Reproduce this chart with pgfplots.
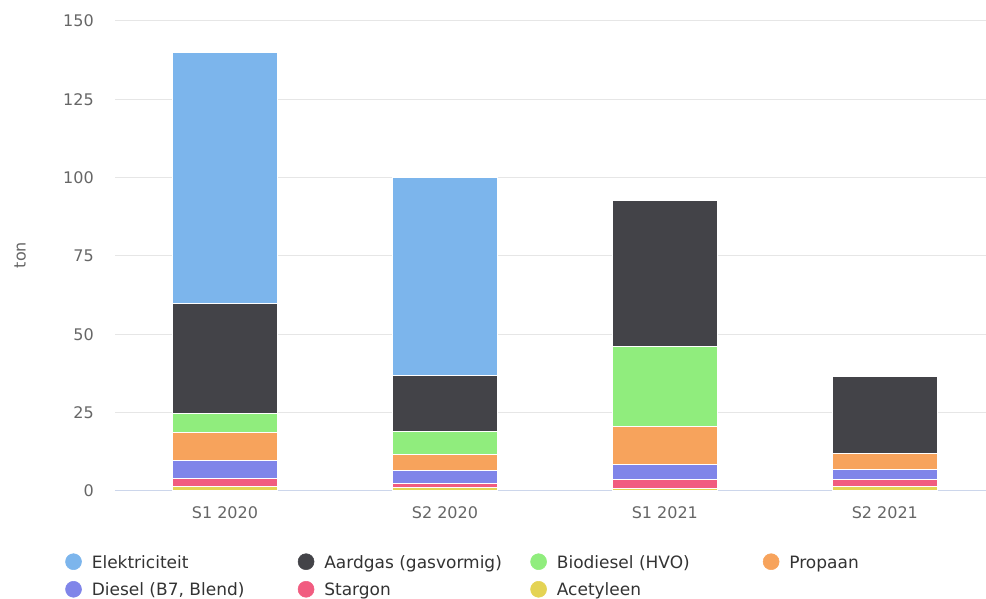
\documentclass[border=0pt]{standalone}
\usepackage{fontspec}
\setmainfont{DejaVu Sans}
\usepackage{pgfplots}
\pgfplotsset{compat=1.18}

\definecolor{cElek}{HTML}{7CB5EC}
\definecolor{cGas}{HTML}{434348}
\definecolor{cBio}{HTML}{90ED7D}
\definecolor{cProp}{HTML}{F7A35C}
\definecolor{cDies}{HTML}{8085E9}
\definecolor{cStar}{HTML}{F15C80}
\definecolor{cAcet}{HTML}{E4D354}
\definecolor{gridc}{HTML}{E6E6E6}
\definecolor{axisc}{HTML}{CCD6EB}
\definecolor{labc}{HTML}{666666}
\definecolor{legc}{HTML}{333333}

\newcommand{\lgt}[1]{\makebox[154.5pt][l]{#1}}

\begin{document}
\begin{tikzpicture}
\begin{axis}[
    at={(0,0)}, anchor=south west,
    scale only axis,
    width=653.25pt, height=352.5pt,
    ybar stacked,
    bar width=78.75pt,
    xmin=-0.5, xmax=3.46,
    ymin=0, ymax=150,
    xtick=data,
    xticklabels={S1 2020, S2 2020, S1 2021, S2 2021},
    ytick={0,25,50,75,100,125,150},
    ymajorgrids,
    major grid style={draw=gridc, line width=0.75pt},
    major tick length=0pt,
    axis x line*=bottom,
    axis y line*=left,
    x axis line style={draw=axisc, line width=0.75pt, -},
    y axis line style={draw=none},
    /pgf/number format/assume math mode=true,
    ticklabel style={font=\fontsize{12}{14}\selectfont, text=labc},
    yticklabel style={inner sep=0pt, anchor=east, xshift=-15.75pt},
    xticklabel style={inner sep=0pt, anchor=center, yshift=-16pt},
    ylabel={ton},
    ylabel style={font=\fontsize{12}{14}\selectfont, text=labc,
        at={(axis description cs:-0.109,0.502)}, anchor=center},
    legend columns=4,
    legend style={draw=none, fill=none, inner sep=0pt,
        at={(-0.0574,-0.1323)}, anchor=north west,
        row sep=6.25pt,
        font=\fontsize{12.75}{15}\selectfont, text=legc,
        nodes={inner xsep=0pt, inner ysep=0pt, text height=10pt, text depth=3.25pt},
        /tikz/every odd column/.append style={column sep=7.5pt},
        /tikz/every even column/.append style={column sep=0pt}},
    legend cell align=left,
    legend image code/.code={\fill[#1] (6pt,1.6pt) circle (6pt);},
]
\addplot[fill=cAcet, draw=white, line width=0.75pt, forget plot]
    coordinates {(0,1.4) (1,1.0) (2,0.9) (3,1.4)};
\addplot[fill=cStar, draw=white, line width=0.75pt, forget plot]
    coordinates {(0,2.7) (1,1.3) (2,2.8) (3,2.3)};
\addplot[fill=cDies, draw=white, line width=0.75pt, forget plot]
    coordinates {(0,5.6) (1,4.1) (2,4.6) (3,3.3)};
\addplot[fill=cProp, draw=white, line width=0.75pt, forget plot]
    coordinates {(0,9.1) (1,5.1) (2,12.4) (3,5.1)};
\addplot[fill=cBio, draw=white, line width=0.75pt, forget plot]
    coordinates {(0,6.0) (1,7.4) (2,25.3) (3,0)};
\addplot[fill=cGas, draw=white, line width=0.75pt, forget plot]
    coordinates {(0,34.9) (1,18.1) (2,46.6) (3,24.6)};
\addplot[fill=cElek, draw=white, line width=0.75pt, forget plot]
    coordinates {(0,80.4) (1,63.2) (2,0) (3,0)};
\addlegendimage{cElek}\addlegendentry{\lgt{Elektriciteit}}
\addlegendimage{cGas}\addlegendentry{\lgt{Aardgas (gasvormig)}}
\addlegendimage{cBio}\addlegendentry{\lgt{Biodiesel (HVO)}}
\addlegendimage{cProp}\addlegendentry{\lgt{Propaan}}
\addlegendimage{cDies}\addlegendentry{\lgt{Diesel (B7, Blend)}}
\addlegendimage{cStar}\addlegendentry{\lgt{Stargon}}
\addlegendimage{cAcet}\addlegendentry{\lgt{Acetyleen}}
\end{axis}
\pgfresetboundingbox
\path[use as bounding box] (-86.25pt,-81pt) rectangle (653.25pt,368.25pt);
\end{tikzpicture}
\end{document}
